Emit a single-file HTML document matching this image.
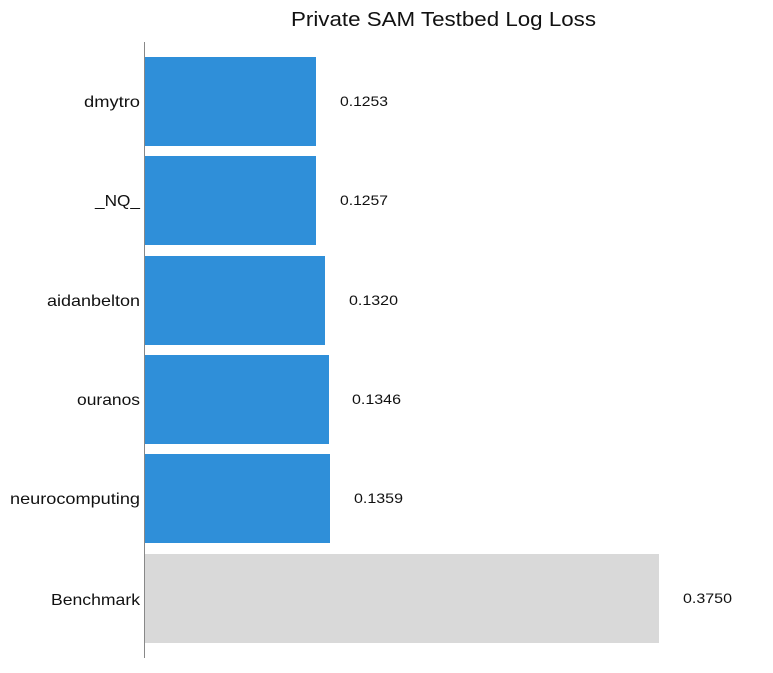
<!DOCTYPE html>
<html><head><meta charset="utf-8"><style>
body{margin:0;background:#fff;}
svg text{font-family:"Liberation Sans",sans-serif;}
</style></head><body>
<svg width="773" height="668" xmlns="http://www.w3.org/2000/svg">
<rect width="773" height="668" fill="#fff"/>
<text x="291" y="26" font-size="20" textLength="305" lengthAdjust="spacingAndGlyphs" fill="#111">Private SAM Testbed Log Loss</text>
<line x1="144.5" y1="42" x2="144.5" y2="658" stroke="#888" stroke-width="1"/>
<g fill="#2f8fd9">
<rect x="145" y="57" width="171" height="89"/>
<rect x="145" y="156" width="171" height="89"/>
<rect x="145" y="256" width="180" height="89"/>
<rect x="145" y="355" width="184" height="89"/>
<rect x="145" y="454" width="185" height="89"/>
</g>
<rect x="145" y="554" width="514" height="89" fill="#d9d9d9"/>
<g font-size="16" fill="#111" lengthAdjust="spacingAndGlyphs">
<text x="84" y="107" textLength="56" lengthAdjust="spacingAndGlyphs">dmytro</text>
<text x="95" y="206" textLength="45" lengthAdjust="spacingAndGlyphs">_NQ_</text>
<text x="47" y="306" textLength="93" lengthAdjust="spacingAndGlyphs">aidanbelton</text>
<text x="77" y="405" textLength="63" lengthAdjust="spacingAndGlyphs">ouranos</text>
<text x="10" y="504" textLength="130" lengthAdjust="spacingAndGlyphs">neurocomputing</text>
<text x="51" y="605" textLength="89" lengthAdjust="spacingAndGlyphs">Benchmark</text>
</g>
<g font-size="14" fill="#111">
<text x="340" y="106" textLength="48" lengthAdjust="spacingAndGlyphs">0.1253</text>
<text x="340" y="205" textLength="48" lengthAdjust="spacingAndGlyphs">0.1257</text>
<text x="349" y="305" textLength="49" lengthAdjust="spacingAndGlyphs">0.1320</text>
<text x="352" y="404" textLength="49" lengthAdjust="spacingAndGlyphs">0.1346</text>
<text x="354" y="503" textLength="49" lengthAdjust="spacingAndGlyphs">0.1359</text>
<text x="683" y="603" textLength="49" lengthAdjust="spacingAndGlyphs">0.3750</text>
</g>
</svg>
</body></html>
